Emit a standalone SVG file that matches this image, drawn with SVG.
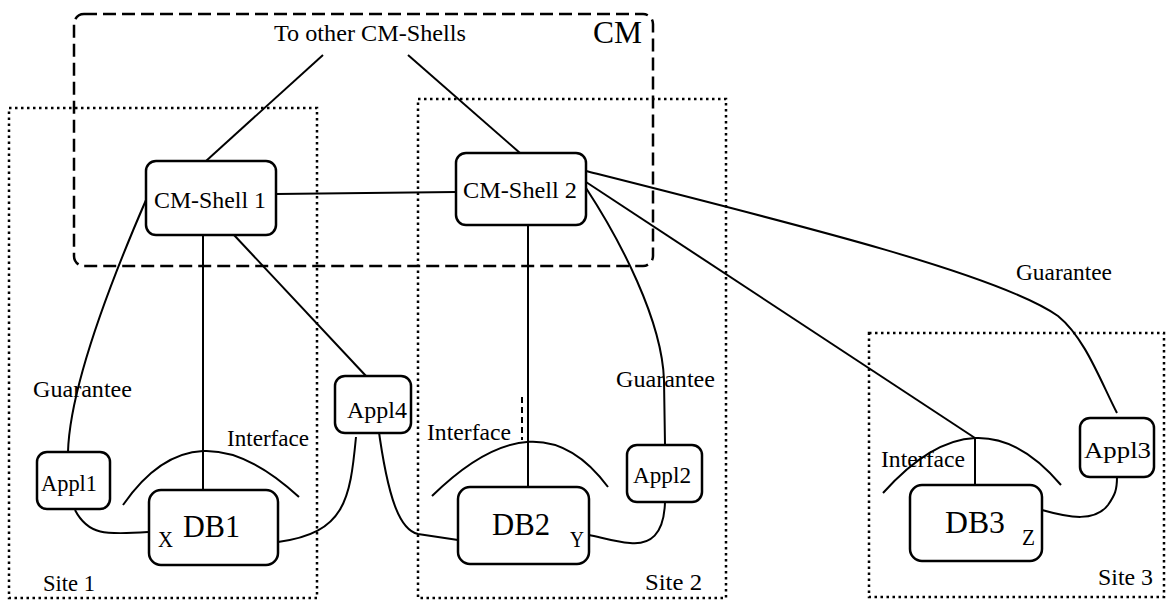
<svg xmlns="http://www.w3.org/2000/svg" width="1167" height="603" viewBox="0 0 1167 603">
<style>
text{font-family:"Liberation Serif","Times New Roman",serif;fill:#000;font-size:23px}
.big{font-size:32px}
.node{fill:#fff;stroke:#000;stroke-width:2.5}
.site{fill:none;stroke:#000;stroke-width:2.5;stroke-dasharray:2.5 3.5}
.cm{fill:none;stroke:#000;stroke-width:2.5;stroke-dasharray:13 6}
.c{fill:none;stroke:#000;stroke-width:2}
</style>
<rect width="1167" height="603" fill="#fff"/>
<g id="regions">
<rect class="site" x="9" y="108" width="308" height="490"/>
<rect class="site" x="418" y="99" width="308" height="499"/>
<rect class="site" x="869" y="333" width="295" height="264"/>
<rect class="cm" x="74" y="14" width="579" height="252" rx="10"/>
</g>
<g id="connectors">
<line class="c" x1="323" y1="55" x2="206" y2="161"/>
<line class="c" x1="408" y1="55" x2="520" y2="153"/>
<line class="c" x1="276" y1="194" x2="456" y2="192"/>
<path class="c" d="M146,200 C120,260 70,380 68,452"/>
<line class="c" x1="203" y1="235" x2="203" y2="490"/>
<line class="c" x1="234" y1="235" x2="366" y2="376"/>
<line class="c" x1="528" y1="225" x2="528" y2="487"/>
<line class="c" x1="522" y1="397" x2="522" y2="440" stroke-dasharray="6 4"/>
<path class="c" d="M586,188 C620,240 662,320 664,380 L665,445"/>
<path class="c" d="M586,171 C800,225 1000,275 1058,316 C1085,338 1100,380 1117,413"/>
<line class="c" x1="586" y1="182" x2="975" y2="438"/>
<path class="c" d="M123,505 Q195,401 299,497"/>
<path class="c" d="M432,496 Q538,392 608,487"/>
<path class="c" d="M883,493 Q978,387 1061,485"/>
<line class="c" x1="975" y1="438" x2="975" y2="485"/>
<path class="c" d="M75,510 C88,535 105,535 148,532"/>
<path class="c" d="M278,542 C345,533 350,500 356,437"/>
<path class="c" d="M378,425 C388,500 400,530 418,534 L458,540"/>
<path class="c" d="M665,502 C664,535 650,545 630,543 C615,542 600,537 589,535"/>
<path class="c" d="M1042,510 C1070,518 1095,522 1108,505 C1115,495 1117,490 1117,477"/>
</g>
<g id="labels">
<text x="274" y="41" textLength="192" lengthAdjust="spacingAndGlyphs">To other CM-Shells</text>
<text class="big" x="593" y="43" textLength="49" lengthAdjust="spacingAndGlyphs">CM</text>
<text x="33" y="397" textLength="99" lengthAdjust="spacingAndGlyphs">Guarantee</text>
<text x="227" y="446" textLength="82" lengthAdjust="spacingAndGlyphs">Interface</text>
<text x="427" y="440" textLength="84" lengthAdjust="spacingAndGlyphs">Interface</text>
<text x="616" y="387" textLength="99" lengthAdjust="spacingAndGlyphs">Guarantee</text>
<text x="1016" y="280" textLength="96" lengthAdjust="spacingAndGlyphs">Guarantee</text>
<text x="881" y="467" textLength="84" lengthAdjust="spacingAndGlyphs">Interface</text>
<text x="43" y="591" textLength="52" lengthAdjust="spacingAndGlyphs">Site 1</text>
<text x="645" y="590" textLength="57" lengthAdjust="spacingAndGlyphs">Site 2</text>
<text x="1098" y="585" textLength="55" lengthAdjust="spacingAndGlyphs">Site 3</text>
</g>
<g id="cmshell1">
<rect class="node" x="146" y="161" width="130" height="74" rx="10"/>
<text x="154" y="208" textLength="112" lengthAdjust="spacingAndGlyphs">CM-Shell 1</text>
</g>
<g id="cmshell2">
<rect class="node" x="456" y="153" width="130" height="72" rx="10"/>
<text x="463" y="198" textLength="114" lengthAdjust="spacingAndGlyphs">CM-Shell 2</text>
</g>
<g id="appl1">
<rect class="node" x="37" y="452" width="73" height="57" rx="10"/>
<text x="41" y="491" textLength="56" lengthAdjust="spacingAndGlyphs">Appl1</text>
</g>
<g id="appl4">
<rect class="node" x="335" y="376" width="76" height="57" rx="10"/>
<text x="347" y="418" textLength="60" lengthAdjust="spacingAndGlyphs">Appl4</text>
</g>
<g id="appl2">
<rect class="node" x="627" y="445" width="75" height="57" rx="10"/>
<text x="633" y="483" textLength="58" lengthAdjust="spacingAndGlyphs">Appl2</text>
</g>
<g id="appl3">
<rect class="node" x="1080" y="418" width="74" height="59" rx="10"/>
<text x="1084" y="458" textLength="67" lengthAdjust="spacingAndGlyphs">Appl3</text>
</g>
<g id="db1">
<rect class="node" x="149" y="490" width="129" height="75" rx="12"/>
<text class="big" x="183" y="537" textLength="57" lengthAdjust="spacingAndGlyphs">DB1</text>
<text x="158" y="547" textLength="15" lengthAdjust="spacingAndGlyphs">X</text>
</g>
<g id="db2">
<rect class="node" x="458" y="487" width="131" height="77" rx="12"/>
<text class="big" x="492" y="535" textLength="58" lengthAdjust="spacingAndGlyphs">DB2</text>
<text x="570" y="547" textLength="14" lengthAdjust="spacingAndGlyphs">Y</text>
</g>
<g id="db3">
<rect class="node" x="910" y="485" width="132" height="76" rx="12"/>
<text class="big" x="945" y="533" textLength="60" lengthAdjust="spacingAndGlyphs">DB3</text>
<text x="1022" y="545" textLength="13" lengthAdjust="spacingAndGlyphs">Z</text>
</g>
</svg>
